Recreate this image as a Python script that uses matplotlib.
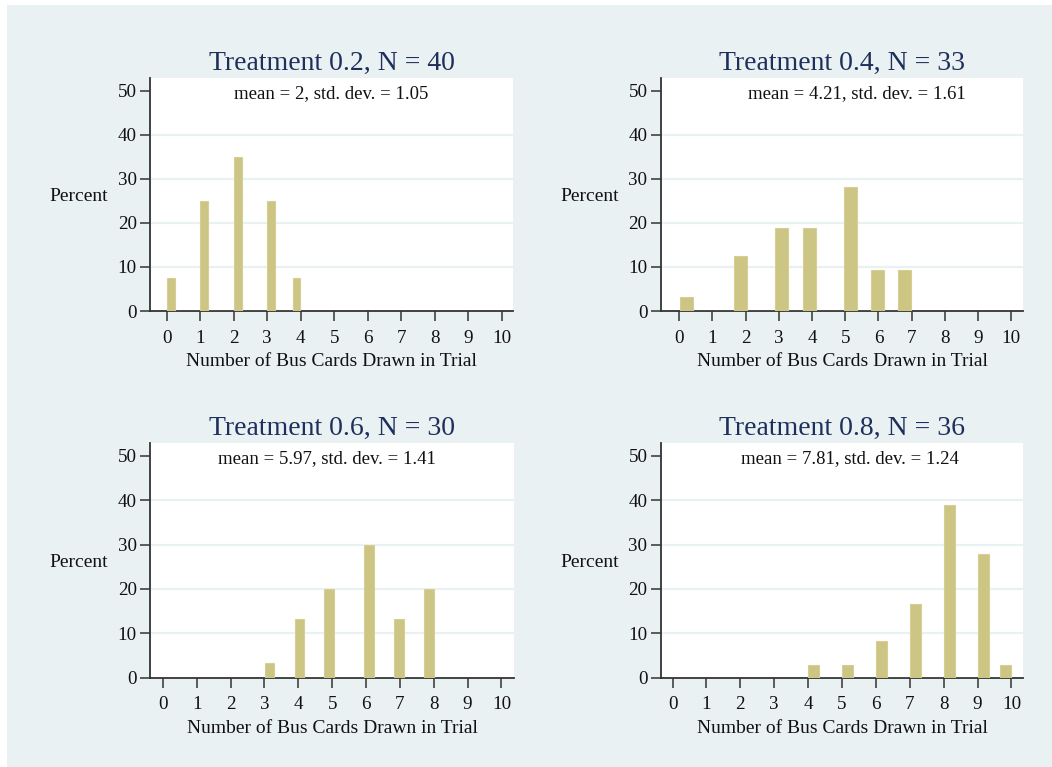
import numpy as np
import matplotlib
matplotlib.use("Agg")
from matplotlib import pyplot as plt
from matplotlib.patches import Rectangle

# cards drawn and percent of subjects, per treatment
vals_02 = [0, 1, 2, 3, 4]
pct_02 = [7.5, 25, 35, 25, 7.5]
vals_04 = [0, 2, 3, 4, 5, 6, 7]
pct_04 = [3.125, 12.5, 18.75, 18.75, 28.125, 9.375, 9.375]
vals_06 = [3, 4, 5, 6, 7, 8]
pct_06 = [3.33, 13.33, 20, 30, 13.33, 20]
vals_08 = [4, 5, 6, 7, 8, 9, 10]
pct_08 = [2.78, 2.78, 8.33, 16.67, 38.89, 27.78, 2.78]
nbins = [16, 17, 17, 18]

titles = ["Treatment 0.2, N = 40", "Treatment 0.4, N = 33",
          "Treatment 0.6, N = 30", "Treatment 0.8, N = 36"]
notes = ["mean = 2, std. dev. = 1.05", "mean = 4.21, std. dev. = 1.61",
         "mean = 5.97, std. dev. = 1.41", "mean = 7.81, std. dev. = 1.24"]
xticks = list(range(11))
yticks = [0, 10, 20, 30, 40, 50]

bg = "#EAF1F3"
barc = "#CDC584"
edgec = "#D6CF95"
axc = "#333333"
titlec = "#1F2F5C"

plt.rcParams['font.family'] = ['Liberation Serif', 'DejaVu Serif']

fig = plt.figure(figsize=(10.52, 7.67), dpi=100)
fig.patch.set_facecolor("white")
fig.patches.append(Rectangle((7 / 1052, 0), 1, 1 - 5 / 767, transform=fig.transFigure,
                             facecolor=bg, edgecolor="none", zorder=-10))

boxes = [(0.1426, 0.5945, 0.3453, 0.3034), (0.628, 0.5945, 0.3447, 0.3034),
         (0.1426, 0.1164, 0.346, 0.3056), (0.628, 0.1164, 0.3447, 0.3056)]
xlims = [(-0.5, 10.35), (-0.56, 10.36), (-0.38, 10.37), (-0.35, 10.35)]
note_x = [0.5, 0.54, 0.487, 0.523]

data = [(vals_02, pct_02), (vals_04, pct_04), (vals_06, pct_06), (vals_08, pct_08)]

for i, (v, p) in enumerate(data):
    ax = fig.add_axes(boxes[i])
    ax.set_facecolor("white")
    edges = np.linspace(min(v), max(v), nbins[i] + 1)
    ax.hist(v, bins=edges, weights=p, rwidth=0.95, color=barc,
            edgecolor=edgec, linewidth=0.8, zorder=3)
    ax.set_xlim(*xlims[i])
    ax.set_ylim(0, 52.8)
    ax.set_xticks(xticks)
    ax.set_yticks(yticks)
    for y in yticks[1:-1]:
        ax.axhline(y, color=bg, linewidth=1.6, zorder=1)
    for s in ["top", "right"]:
        ax.spines[s].set_visible(False)
    for s in ["left", "bottom"]:
        ax.spines[s].set_color(axc)
        ax.spines[s].set_linewidth(1.3)
    ax.tick_params(axis="both", direction="out", length=7, width=1.1, color=axc,
                   labelsize=13.7, labelcolor="#111111")
    ax.tick_params(axis="x", pad=6.5)
    ax.tick_params(axis="y", pad=2.5)
    ax.set_title(titles[i], fontsize=20, color=titlec, pad=6)
    ax.set_xlabel("Number of Bus Cards Drawn in Trial", fontsize=14, color="#111111",
                  va="center")
    ax.xaxis.set_label_coords(0.5, -0.215)
    ax.set_ylabel("Percent", fontsize=14, rotation=0, color="#111111",
                  ha="center", va="center")
    ax.yaxis.set_label_coords(-0.197, 0.49)
    ax.text(note_x[i], 0.935, notes[i], transform=ax.transAxes, fontsize=13.5,
            ha="center", va="center", color="#111111")

fig.savefig("out.png", dpi=100, facecolor=fig.get_facecolor())
